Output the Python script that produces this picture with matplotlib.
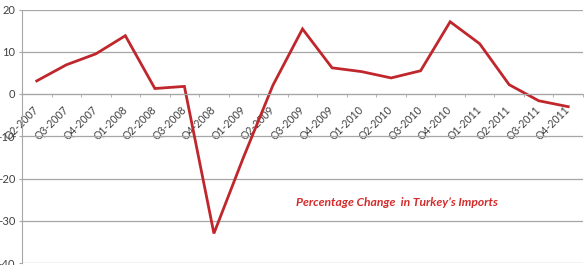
import matplotlib
matplotlib.use("Agg")
import matplotlib.pyplot as plt
import numpy as np

# quarterly % change in Turkey's imports
quarters = ["Q2-2007", "Q3-2007", "Q4-2007", "Q1-2008", "Q2-2008", "Q3-2008",
            "Q4-2008", "Q1-2009", "Q2-2009", "Q3-2009", "Q4-2009", "Q1-2010",
            "Q2-2010", "Q3-2010", "Q4-2010", "Q1-2011", "Q2-2011", "Q3-2011",
            "Q4-2011"]
pct_change = [3.1, 6.9, 9.5, 13.8, 1.3, 1.8, -33.0, -15.0, 2.1, 15.4, 6.2,
              5.3, 3.8, 5.5, 17.1, 11.9, 2.2, -1.6, -3.0]
y_ticks = [20, 10, 0, -10, -20, -30, -40]
title_text = "Percentage Change  in Turkey\u2019s Imports"

plt.rcParams['font.family'] = ['Lato', 'DejaVu Sans']

fig = plt.figure(figsize=(5.86, 2.65), dpi=100)
ax = fig.add_axes([22 / 586, 2 / 265, 561 / 586, 253.5 / 265])

x = np.arange(len(quarters))
ax.plot(x, pct_change, color='#c0272d', lw=2.0, solid_joinstyle='miter')

ax.set_xlim(-0.5, len(quarters) - 0.5)
ax.set_ylim(-40, 20)
ax.set_yticks(y_ticks)
ax.yaxis.grid(True, color='#a6a6a6', lw=0.9)
ax.set_axisbelow(True)

for s in ['top', 'right']:
    ax.spines[s].set_visible(False)
ax.spines['left'].set_color('#a6a6a6')
ax.spines['bottom'].set_color('#a6a6a6')
ax.spines['bottom'].set_position(('data', 0))

ax.set_xticks(x)
ax.set_xticks(np.arange(len(quarters) + 1) - 0.5, minor=True)
ax.set_xticklabels(quarters)
ax.tick_params(axis='x', which='major', length=0, pad=10, labelsize=7.6,
               labelcolor='#404040')
ax.tick_params(axis='x', which='minor', length=2.5, color='#a6a6a6')
ax.tick_params(axis='y', length=2, color='#a6a6a6', pad=3, labelsize=8,
               labelcolor='#404040')
plt.setp(ax.get_xticklabels(), rotation=45, ha='right', va='center',
         rotation_mode='anchor')

ax.text(0.668, 0.24, title_text, transform=ax.transAxes, ha='center',
        va='center', color='#d42b2b', fontsize=8.7, fontweight='bold',
        fontstyle='italic')

fig.savefig("out.png", dpi=100)
